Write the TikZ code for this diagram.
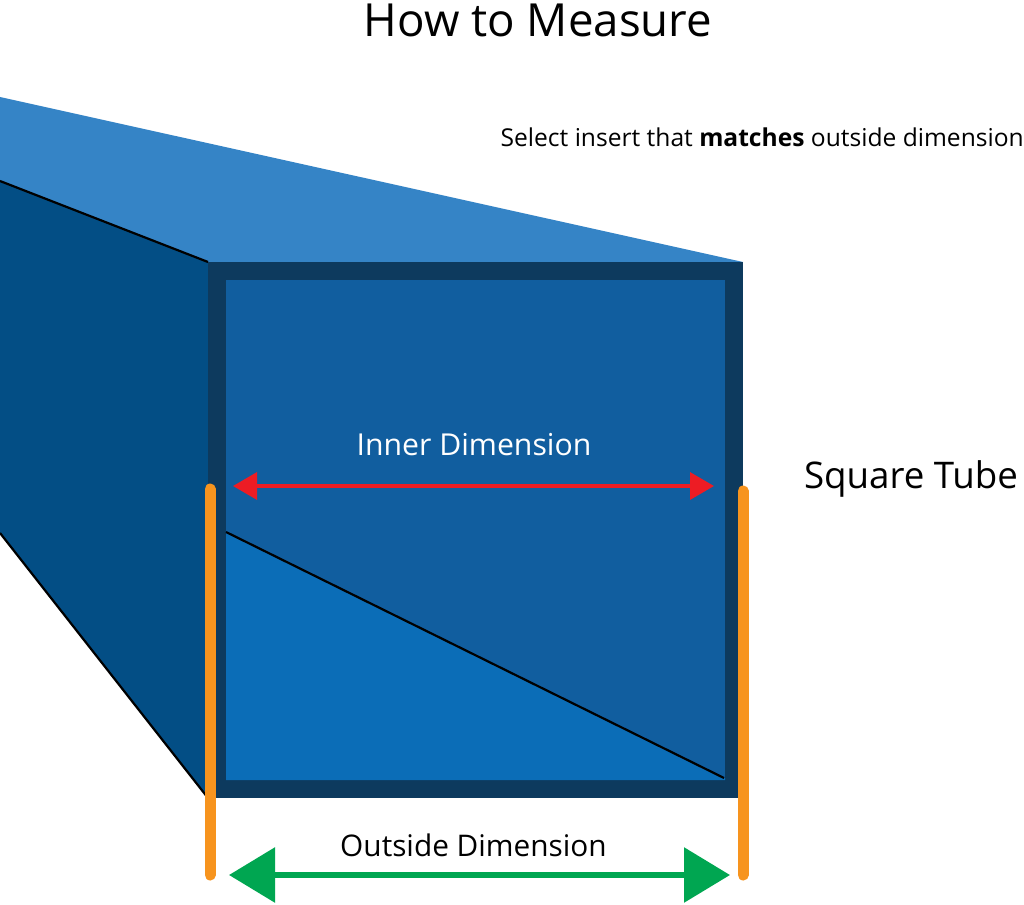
\documentclass[tikz,border=0pt]{standalone}
\usepackage{fontspec}
\setmainfont{Open Sans}
\usetikzlibrary{arrows.meta}
\definecolor{topface}{HTML}{3584C6}
\definecolor{sideface}{HTML}{034E85}
\definecolor{rim}{HTML}{0D3A5E}
\definecolor{innerwall}{HTML}{115E9F}
\definecolor{floorface}{HTML}{0B6DB7}
\definecolor{orangebar}{HTML}{F7941E}
\definecolor{redarrow}{HTML}{ED1C24}
\definecolor{greenarrow}{HTML}{00A651}
\tikzset{
  lbl/.style={inner sep=0pt,anchor=center,text=black},
  bar/.style={line width=11pt,line cap=round,draw=orangebar},
  edgeline/.style={draw=black,line width=2.2pt},
}
\begin{document}
\begin{tikzpicture}[x=1pt,y=-1pt]
\useasboundingbox (0,0) rectangle (1024,904);
\fill[white] (0,0) rectangle (1024,904);
% faces
\fill[topface] (0,97) -- (743,262) -- (208,262) -- (0,181) -- cycle;
\fill[sideface] (0,181) -- (208,262) -- (208,798) -- (0,533) -- cycle;
\draw[edgeline] (0,181) -- (208,262);
\draw[edgeline] (0,533) -- (208,798);
\fill[rim] (208,262) rectangle (743,798);
\fill[innerwall] (226,280) rectangle (725,780);
\fill[floorface] (226,532) -- (725,778) -- (725,780) -- (226,780) -- cycle;
\draw[edgeline] (226,532) -- (724,778);
% bars
\coordinate (la) at (210,489); \coordinate (lb) at (210,875);
\coordinate (ra) at (743,491); \coordinate (rb) at (743,875);
\draw[bar] (la) -- (lb);
\draw[bar] (ra) -- (rb);
% arrows
\coordinate (ia) at (233,486); \coordinate (ib) at (714,486);
\draw[redarrow,line width=3.4pt,{Triangle[length=24pt,width=27pt]}-{Triangle[length=24pt,width=27pt]}] (ia) -- (ib);
\coordinate (oa) at (229,875); \coordinate (ob) at (730,875);
\draw[greenarrow,line width=6pt,{Triangle[length=46pt,width=54pt]}-{Triangle[length=46pt,width=54pt]}] (oa) -- (ob);
% text
\node[lbl,font=\fontsize{45.6}{50}\selectfont] (title) at (538,20) {How to Measure};
\node[lbl,font=\fontsize{24.6}{28}\selectfont,anchor=east] (sel) at (1024,137) {Select insert that \textbf{matches} outside dimension};
\node[lbl,font=\fontsize{30.2}{36}\selectfont,text=white] (inner) at (474,445) {Inner Dimension};
\node[lbl,font=\fontsize{36.7}{42}\selectfont] (sq) at (911,479) {Square Tube};
\node[lbl,font=\fontsize{29.8}{36}\selectfont] (outer) at (473.5,845) {Outside Dimension};
\end{tikzpicture}
\end{document}
